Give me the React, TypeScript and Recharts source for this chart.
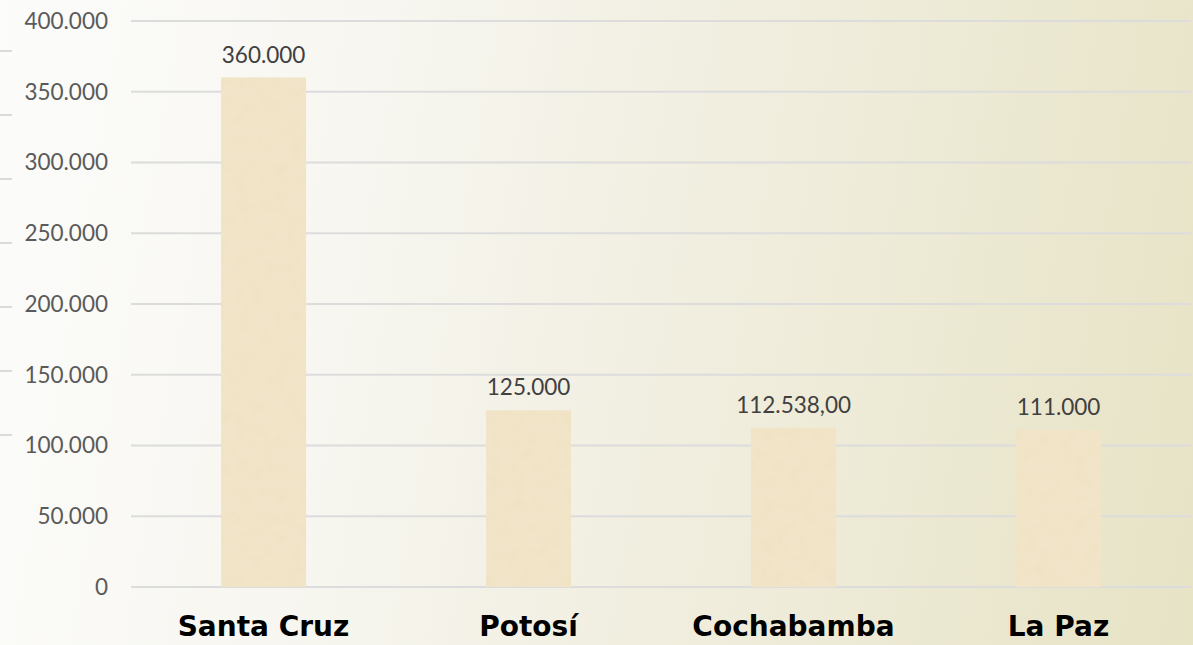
import React from "react";
import { BarChart, Bar, XAxis, YAxis, CartesianGrid, LabelList } from "recharts";

const categories = ["Santa Cruz", "Potosí", "Cochabamba", "La Paz"];
const values = [360000, 125000, 112538, 111000];
const valueLabels = ["360.000", "125.000", "112.538,00", "111.000"];
const yTicks = [0, 50000, 100000, 150000, 200000, 250000, 300000, 350000, 400000];
const yTickLabels = ["0", "50.000", "100.000", "150.000", "200.000", "250.000", "300.000", "350.000", "400.000"];
const decoLines = [0, 1, 2, 3, 4, 5, 6];

const data = categories.map((c, i) => ({ name: c, value: values[i], label: valueLabels[i] }));

const W = 1193;
const H = 645;

export default function App() {
  return (
    <div
      style={{
        position: "fixed",
        left: 0,
        top: 0,
        width: W,
        height: H,
        background: "linear-gradient(100deg, #fcfcfb 0%, #f7f6f0 30%, #efecdb 65%, #e7e3c5 100%)",
        overflow: "hidden",
      }}
    >
      <svg width={14} height={H} style={{ position: "absolute", left: 0, top: 0 }}>
        {decoLines.map((i) => (
          <line key={i} x1={0} x2={12} y1={51 + i * 64} y2={51 + i * 64} stroke="#d0d0d0" strokeWidth={1.5} />
        ))}
      </svg>
      <BarChart
        width={W}
        height={H}
        data={data}
        margin={{ top: 21, right: 2, left: 0, bottom: 0 }}
        barCategoryGap="34%"
        style={{ position: "absolute", left: 0, top: 0 }}
      >
        <defs>
          <filter id="sand" x="0" y="0" width="100%" height="100%">
            <feTurbulence type="fractalNoise" baseFrequency="0.08" numOctaves="4" seed="7" result="n" />
            <feColorMatrix
              in="n"
              type="matrix"
              values="0 0 0 0 0.86  0 0 0 0 0.74  0 0 0 0 0.52  1.1 0 0 0 -0.45"
              result="c"
            />
            <feComposite in="c" in2="SourceGraphic" operator="in" result="ci" />
            <feMerge>
              <feMergeNode in="SourceGraphic" />
              <feMergeNode in="ci" />
            </feMerge>
          </filter>
        </defs>
        <CartesianGrid vertical={false} stroke="#dcdcdc" strokeWidth={2} />
        <XAxis
          dataKey="name"
          axisLine={false}
          tickLine={false}
          height={58}
          tickSize={0}
          tickMargin={29}
          interval={0}
          tick={{ fill: "#000000", fontSize: 28, fontWeight: 700, fontFamily: "'DejaVu Sans', sans-serif" }}
        />
        <YAxis
          type="number"
          domain={[0, 400000]}
          ticks={yTicks}
          width={131}
          axisLine={false}
          tickLine={false}
          tickSize={0}
          tickMargin={23}
          interval={0}
          tickFormatter={(v: number) => yTickLabels[yTicks.indexOf(v)]}
          tick={{ fill: "#5a5a5a", fontSize: 22.5, fontFamily: "Lato, sans-serif" }}
        />
        <Bar dataKey="value" fill="#f2e4c8" filter="url(#sand)" isAnimationActive={false}>
          <LabelList
            dataKey="label"
            position="top"
            offset={15}
            fill="#404040"
            fontSize={22.5}
            fontFamily="Lato, sans-serif"
          />
        </Bar>
      </BarChart>
    </div>
  );
}
